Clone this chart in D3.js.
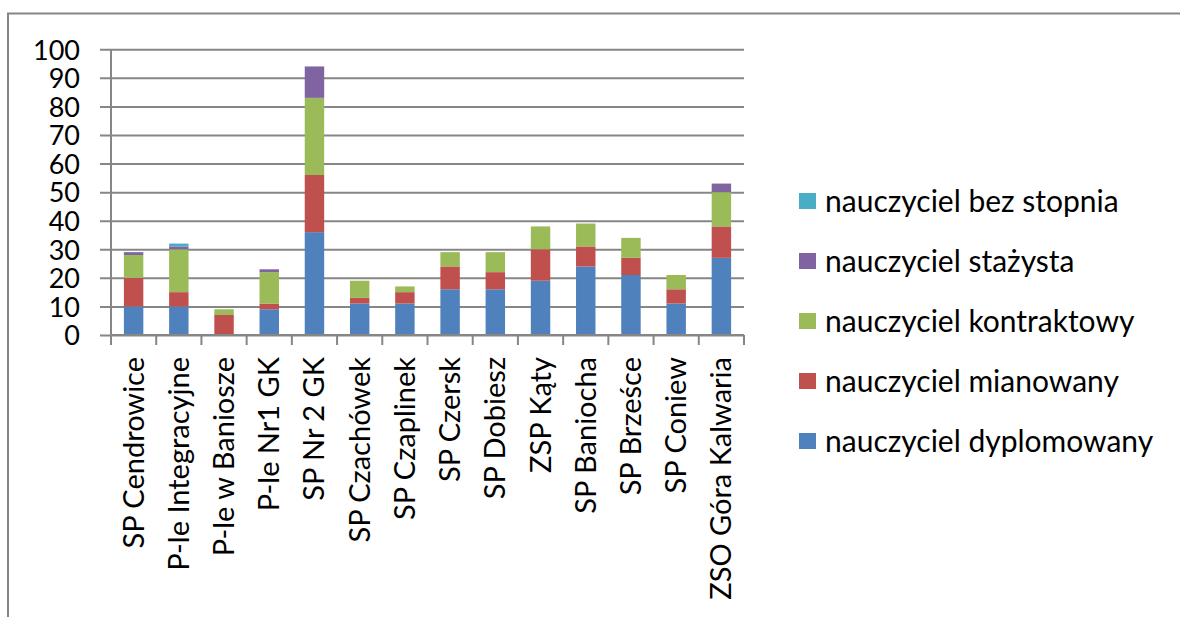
<!DOCTYPE html>
<html><head><meta charset="utf-8">
<script src="https://cdn.jsdelivr.net/npm/d3@7"></script>
<style>body{margin:0;background:#fff}svg{display:block}text{font-family:Lato,"Liberation Sans",sans-serif;fill:#000}</style>
</head><body>
<svg id="c" width="1180" height="617"></svg>
<script>
const categories = ["SP Cendrowice","P-le Integracyjne","P-le w Baniosze","P-le Nr1 GK","SP Nr 2 GK","SP Czachówek","SP Czaplinek","SP Czersk","SP Dobiesz","ZSP Kąty","SP Baniocha","SP Brześce","SP Coniew","ZSO Góra Kalwaria"];
const dyplomowany = [10,10,0,9,36,11,11,16,16,19,24,21,11,27];
const mianowany   = [10,5,7,2,20,2,4,8,6,11,7,6,5,11];
const kontraktowy = [8,15,2,11,27,6,2,5,7,8,8,7,5,12];
const stazysta    = [1,1,0,1,11,0,0,0,0,0,0,0,0,3];
const bezStopnia  = [0,1,0,0,0,0,0,0,0,0,0,0,0,0];
const seriesNames = ["nauczyciel dyplomowany","nauczyciel mianowany","nauczyciel kontraktowy","nauczyciel stażysta","nauczyciel bez stopnia"];
const seriesValues = [dyplomowany, mianowany, kontraktowy, stazysta, bezStopnia];
const colors = ["#4F81BD","#C0504D","#9BBB59","#8064A2","#4BACC6"];
const yTicks = [0,10,20,30,40,50,60,70,80,90,100];

const svg = d3.select("#c");
const grid = "#868686";
const L = 111, R = 744, T = 49.3, B = 335;

// frame
svg.append("path").attr("d","M8,640 L8,13.5 L1200,13.5").attr("fill","none").attr("stroke",grid).attr("stroke-width",2);

const x = d3.scaleBand().domain(categories).range([L,R]).paddingInner(0.57).paddingOuter(0.285);
const y = d3.scaleLinear().domain([0,100]).range([B,T]);

// gridlines + y axis
const yAxis = d3.axisLeft(y).tickValues(yTicks).tickSize(-(R-L)).tickPadding(20).tickFormat(d3.format("d"));
const gy = svg.append("g").attr("transform",`translate(${L},0)`).call(yAxis);
gy.select(".domain").remove();
gy.selectAll(".tick line").attr("stroke",grid).attr("stroke-width",2).attr("x1",-11);
gy.selectAll(".tick text").attr("font-size",27).attr("font-family","Lato").attr("fill","#000").attr("x",-31).attr("dy","0.36em");
svg.append("line").attr("x1",L).attr("x2",L).attr("y1",T).attr("y2",B+10).attr("stroke",grid).attr("stroke-width",2);

// stacked bars
const rows = categories.map((c,i)=>{const o={cat:c}; seriesNames.forEach((s,k)=>o[s]=seriesValues[k][i]); return o;});
const stack = d3.stack().keys(seriesNames)(rows);
svg.append("g").selectAll("g").data(stack).join("g").attr("fill",(d,i)=>colors[i])
  .selectAll("rect").data(d=>d).join("rect")
  .attr("x",d=>x(d.data.cat)).attr("width",x.bandwidth())
  .attr("y",d=>y(d[1])).attr("height",d=>y(d[0])-y(d[1]));

// x axis
const step = x.step();
const boundaries = d3.range(categories.length+1).map(i=>L+i*step);
svg.append("line").attr("x1",L).attr("x2",R).attr("y1",B).attr("y2",B).attr("stroke",grid).attr("stroke-width",2);
svg.append("g").selectAll("line").data(boundaries).join("line")
  .attr("x1",d=>d).attr("x2",d=>d).attr("y1",B).attr("y2",B+10).attr("stroke",grid).attr("stroke-width",2);
svg.append("g").selectAll("text").data(categories).join("text")
  .attr("transform",d=>`translate(${x(d)+x.bandwidth()/2+10},357) rotate(-90)`)
  .attr("text-anchor","end").attr("font-size",29).text(d=>d);

// legend
const legendOrder = [4,3,2,1,0];
const lg = svg.append("g");
legendOrder.forEach((k,j)=>{
  const cy = 201 + j*60;
  lg.append("rect").attr("x",799).attr("y",cy-8).attr("width",17).attr("height",16).attr("fill",colors[k]);
  lg.append("text").attr("x",825).attr("y",cy).attr("dy","0.35em").attr("font-size",30).text(seriesNames[k]);
});
</script>
</body></html>
